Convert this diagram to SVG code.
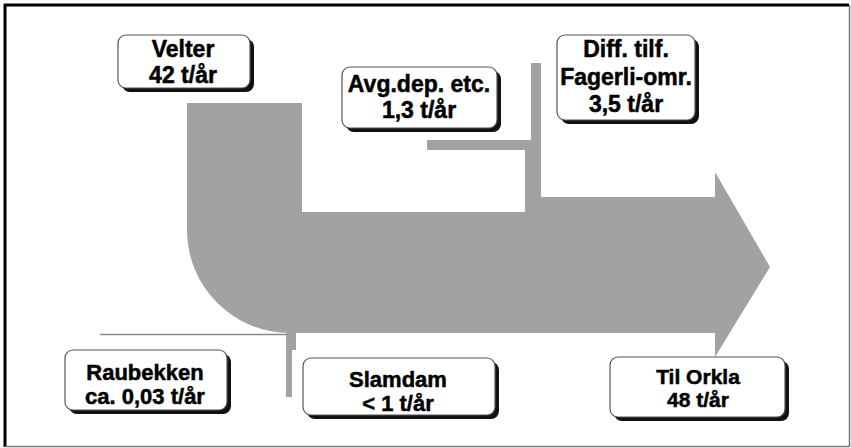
<svg xmlns="http://www.w3.org/2000/svg" width="851" height="448" viewBox="0 0 851 448">
<style>
.flow{fill:#a2a2a2}
.sh{fill:#111}
.box{fill:#fff;stroke:#555;stroke-width:1.2}
text{font-family:"Liberation Sans",Arial,sans-serif;font-weight:bold;font-size:23px;text-anchor:middle;fill:#000;stroke:#000;stroke-width:0.5}
.s{font-size:22px}
.t{font-size:21px}
</style>
<rect x="0" y="0" width="851" height="448" fill="#fff"/>
<line x1="4" y1="5" x2="849" y2="5" stroke="#000" stroke-width="3"/>
<line x1="5" y1="4" x2="5" y2="447" stroke="#000" stroke-width="3"/>
<line x1="849.5" y1="5" x2="849.5" y2="447" stroke="#777" stroke-width="1.5"/>
<line x1="5" y1="446.5" x2="849" y2="446.5" stroke="#777" stroke-width="1.5"/>
<g id="connectors">
<path class="flow" d="M187,103 L302,103 L302,212 L525,212 L525,150 L427,150 L427,140 L531,140 L531,63 L541,63 L541,197 L715,197 L715,172 L770,267 L715,357 L715,333 L290,333 A103,103 0 0 1 187,230 Z"/>
<path class="flow" d="M286,333 L296,333 L296,350 L292,350 L292,397 L286,397 Z"/>
<line x1="100" y1="334.5" x2="287" y2="334.5" stroke="#8a8a8a" stroke-width="1.5"/>
</g>
<g id="velter">
<rect class="sh" x="122" y="39" width="132" height="53" rx="8"/>
<rect class="box" x="118" y="35" width="132" height="53" rx="8"/>
<text x="183" y="57">Velter</text>
<text x="183" y="83">42 t/år</text>
</g>
<g id="avgdep">
<rect class="sh" x="346" y="71" width="155" height="61" rx="8"/>
<rect class="box" x="342" y="67" width="155" height="61" rx="8"/>
<text x="419" y="92">Avg.dep. etc.</text>
<text x="419" y="118">1,3 t/år</text>
</g>
<g id="diff">
<rect class="sh" x="561" y="39" width="138" height="85" rx="8"/>
<rect class="box" x="557" y="35" width="138" height="85" rx="8"/>
<text x="626" y="57">Diff. tilf.</text>
<text x="626" y="85">Fagerli-omr.</text>
<text x="626" y="112">3,5 t/år</text>
</g>
<g id="raubekken">
<rect class="sh" x="69" y="354" width="162" height="60" rx="8"/>
<rect class="box" x="65" y="350" width="162" height="60" rx="8"/>
<text class="s" x="145" y="380">Raubekken</text>
<text class="s" x="145" y="404">ca. 0,03 t/år</text>
</g>
<g id="slamdam">
<rect class="sh" x="307" y="362" width="192" height="57" rx="8"/>
<rect class="box" x="303" y="358" width="192" height="57" rx="8"/>
<text class="s" x="398" y="387">Slamdam</text>
<text class="s" x="398" y="411">&lt; 1 t/år</text>
</g>
<g id="tilorkla">
<rect class="sh" x="614" y="361" width="175" height="60" rx="8"/>
<rect class="box" x="610" y="357" width="175" height="60" rx="8"/>
<text class="t" x="698" y="384">Til Orkla</text>
<text class="t" x="698" y="407">48 t/år</text>
</g>
</svg>
